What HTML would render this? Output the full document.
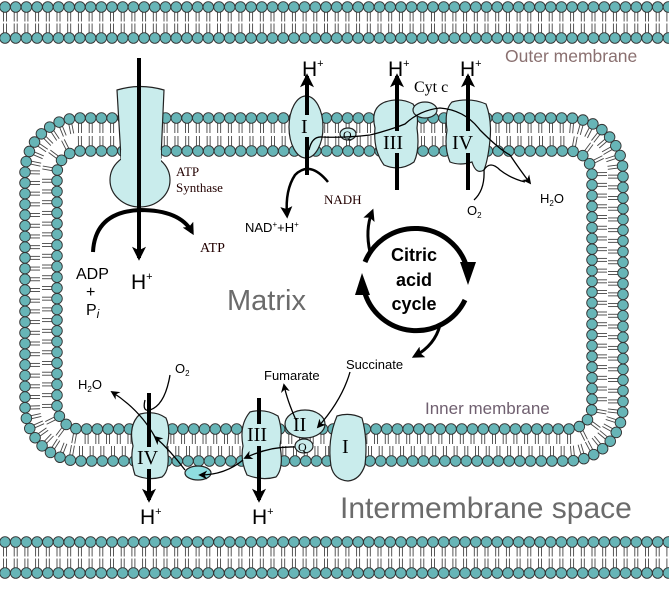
<!DOCTYPE html>
<html><head><meta charset="utf-8"><style>
html,body{margin:0;padding:0;background:#fff;}
svg{display:block;}
text{font-family:"Liberation Sans",sans-serif;}
.serif{font-family:"Liberation Serif",serif;}
</style></head><body>
<svg id="s" width="669" height="601" viewBox="0 0 669 601" xmlns="http://www.w3.org/2000/svg">
<defs>
<marker id="ah" viewBox="0 0 10 10" refX="8" refY="5" markerUnits="userSpaceOnUse" markerWidth="9" markerHeight="9" orient="auto"><path d="M0,0 L10,5 L0,10 L3,5 z" fill="#000"/></marker>
<marker id="ahs" viewBox="0 0 10 10" refX="8" refY="5" markerUnits="userSpaceOnUse" markerWidth="18" markerHeight="14" orient="auto"><path d="M0,0 L10,5 L0,10 L2.5,5 z" fill="#000"/></marker>
<marker id="ahb" viewBox="0 0 10 10" refX="7" refY="5" markerUnits="userSpaceOnUse" markerWidth="12" markerHeight="12" orient="auto"><path d="M0,0 L10,5 L0,10 L2,5 z" fill="#000"/></marker>
</defs>
<g id="mem"></g>
<g id="fg" stroke="#222" stroke-width="1.2">
<path d="M117,90 Q140,83 164,90 L161,158 L121,158 Z" fill="#c9ecec"/>
<ellipse cx="140" cy="180" rx="30" ry="27" fill="#c9ecec"/>
<rect x="121" y="150" width="40" height="12" fill="#c9ecec" stroke="none"/>
<ellipse cx="306" cy="127" rx="17" ry="31" fill="#c9ecec"/>
<path d="M385,102 Q400,97 413,104 Q419,112 417,128 Q420,150 414,162 Q400,172 384,165 Q373,150 375,128 Q370,108 385,102 Z" fill="#c9ecec"/>
<ellipse cx="425" cy="110" rx="12" ry="8" fill="#c9ecec"/>
<path d="M452,102 Q470,97 486,104 Q492,120 490,140 Q488,160 484,170 Q476,175 472,162 Q460,166 450,162 Q444,148 447,130 Q444,110 452,102 Z" fill="#c9ecec"/>
<ellipse cx="348" cy="134" rx="8" ry="6" fill="#c9ecec"/>
<path d="M140,414 Q155,410 166,418 Q171,430 167,446 Q171,470 162,477 Q148,481 135,475 Q130,460 133,446 Q128,425 140,414 Z" fill="#c9ecec"/>
<path d="M250,412 Q265,408 278,416 Q283,430 280,446 Q284,468 276,477 Q262,481 247,475 Q240,460 243,446 Q239,425 250,412 Z" fill="#c9ecec"/>
<ellipse cx="305" cy="424" rx="20" ry="14" fill="#c9ecec"/>
<ellipse cx="304" cy="446" rx="9" ry="7" fill="#c9ecec"/>
<path d="M337,416 Q350,412 362,418 Q368,440 365,465 Q360,480 348,481 Q334,480 331,466 Q327,440 337,416 Z" fill="#c9ecec"/>
<ellipse cx="198" cy="473" rx="13" ry="7" fill="#8fdde0"/>
</g>
<g fill="none" stroke="#000">
<line x1="139" y1="58" x2="139" y2="258" stroke-width="4" marker-end="url(#ahs)"/>
<line x1="307" y1="175" x2="307" y2="76" stroke-width="4" marker-end="url(#ahs)"/>
<line x1="397" y1="190" x2="397" y2="76" stroke-width="4" marker-end="url(#ahs)"/>
<line x1="468" y1="190" x2="468" y2="76" stroke-width="4" marker-end="url(#ahs)"/>
<line x1="149" y1="393" x2="149" y2="500" stroke-width="4" marker-end="url(#ahs)"/>
<line x1="259" y1="398" x2="259" y2="500" stroke-width="4" marker-end="url(#ahs)"/>
<path d="M93,252 Q95,212 140,210 Q180,210 192,232" stroke-width="4" marker-end="url(#ahb)"/>
<path d="M328,182 Q310,160 295,175 Q285,190 287,215" stroke-width="2.5" marker-end="url(#ahb)"/>
</g>
<!-- label backgrounds breaking arrows -->
<g fill="#c9ecec">
<rect x="300" y="115" width="14" height="22"/>
<rect x="382" y="131" width="30" height="22"/>
<rect x="451" y="131" width="26" height="22"/>
<rect x="136" y="447" width="26" height="22"/>
<rect x="246" y="424" width="30" height="22"/>
</g>
<g fill="none" stroke="#000">
<path d="M309,150 Q312,136 322,137 Q345,138 370,135 Q390,130 405,124 Q420,110 440,108 Q465,110 480,130 Q500,150 510,155" stroke-width="1.3"/>
<path d="M510,155 Q520,170 530,183" stroke-width="1.3" marker-end="url(#ah)"/>
<path d="M474,200 Q485,190 484,170 Q490,160 500,170 Q510,178 525,182" stroke-width="1.3"/>
<path d="M295,447 Q270,446 245,458" stroke-width="1.3" marker-end="url(#ah)"/>
<path d="M243,460 Q225,475 200,475" stroke-width="1.3" marker-end="url(#ah)"/>
<path d="M185,470 Q170,450 155,437" stroke-width="1.3" marker-end="url(#ah)"/>
<path d="M155,437 Q140,410 112,392" stroke-width="1.3" marker-end="url(#ah)"/>
<path d="M170,375 Q165,405 150,410 Q142,412 145,400" stroke-width="1.3"/>
<path d="M350,372 Q342,400 318,427" stroke-width="1.3" marker-end="url(#ah)"/>
<path d="M296,420 Q287,400 284,385" stroke-width="1.3" marker-end="url(#ah)"/>
<path d="M365,262 A54,54 0 0 1 467,268" stroke-width="5"/>
<path d="M465,300 A54,54 0 0 1 364,290" stroke-width="5"/>
<path d="M370,252 Q365,230 372,212" stroke-width="3" marker-end="url(#ahb)"/>
<path d="M440,325 Q435,345 415,356" stroke-width="3" marker-end="url(#ahb)"/>
</g>
<polygon points="460,262 476,262 468,285" fill="#000"/>
<polygon points="355,295 370,295 362,273" fill="#000"/>
<g fill="#000">
<text x="302" y="76" font-size="21">H<tspan font-size="11" dy="-9">+</tspan></text>
<text x="388" y="76" font-size="21">H<tspan font-size="11" dy="-9">+</tspan></text>
<text x="460" y="76" font-size="21">H<tspan font-size="11" dy="-9">+</tspan></text>
<text x="131" y="289" font-size="21">H<tspan font-size="11" dy="-9">+</tspan></text>
<text x="140" y="524" font-size="21">H<tspan font-size="11" dy="-9">+</tspan></text>
<text x="252" y="524" font-size="21">H<tspan font-size="11" dy="-9">+</tspan></text>
<text class="serif" x="301" y="133" font-size="20">I</text>
<text class="serif" x="383" y="149" font-size="20">III</text>
<text class="serif" x="452" y="149" font-size="20">IV</text>
<text class="serif" x="343" y="139" font-size="12">Q</text>
<text class="serif" x="414" y="92" font-size="16">Cyt c</text>
<text class="serif" x="137" y="464" font-size="20">IV</text>
<text class="serif" x="247" y="441" font-size="20">III</text>
<text class="serif" x="293" y="431" font-size="20">II</text>
<text class="serif" x="342" y="453" font-size="20">I</text>
<text class="serif" x="298" y="451" font-size="12">Q</text>
<text class="serif" x="176" y="176" font-size="13" fill="#200">ATP</text>
<text class="serif" x="176" y="192" font-size="13" fill="#200">Synthase</text>
<text class="serif" x="200" y="252" font-size="14" fill="#200">ATP</text>
<text class="serif" x="324" y="204" font-size="13" fill="#200">NADH</text>
<text x="245" y="232" font-size="13">NAD<tspan font-size="8" dy="-5">+</tspan><tspan dy="5">+H</tspan><tspan font-size="8" dy="-5">+</tspan></text>
<text x="76" y="279" font-size="16">ADP</text>
<text x="86" y="297" font-size="16">+</text>
<text x="86" y="315" font-size="16">P<tspan font-size="12" font-style="italic" dy="3">i</tspan></text>
<text x="467" y="215" font-size="13">O<tspan font-size="8" dy="3">2</tspan></text>
<text x="540" y="203" font-size="13">H<tspan font-size="8" dy="3">2</tspan><tspan dy="-3">O</tspan></text>
<text x="78" y="389" font-size="13">H<tspan font-size="8" dy="3">2</tspan><tspan dy="-3">O</tspan></text>
<text x="175" y="373" font-size="13">O<tspan font-size="8" dy="3">2</tspan></text>
<text x="264" y="380" font-size="13">Fumarate</text>
<text x="346" y="369" font-size="13">Succinate</text>
<text x="414" y="261" font-size="18" font-weight="bold" text-anchor="middle">Citric</text>
<text x="414" y="286" font-size="18" font-weight="bold" text-anchor="middle">acid</text>
<text x="414" y="310" font-size="18" font-weight="bold" text-anchor="middle">cycle</text>
<text x="227" y="310" font-size="29" fill="#6b6b6b">Matrix</text>
<text x="505" y="62" font-size="17.5" fill="#8a7070">Outer membrane</text>
<text x="425" y="414" font-size="17" fill="#706070">Inner membrane</text>
<text x="340" y="518" font-size="30" fill="#6b6b6b">Intermembrane space</text>
</g>
</svg>
<script>
(function(){
var NS="http://www.w3.org/2000/svg",g=document.getElementById('mem');
function el(t,a,p){var e=document.createElementNS(NS,t);for(var k in a)e.setAttribute(k,a[k]);(p||g).appendChild(e);return e;}
var HC="#67b5b7",R=5.3;
function straight(y1,y2){
 el('rect',{x:0,y:y1,width:669,height:y2-y1,fill:'#fff'});
 var heads=[];
 for(var x=5;x<672;x+=10.7){
  el('line',{x1:x-1.5,y1:y1,x2:x-1.5,y2:y2,stroke:'#444','stroke-width':0.9});
  el('line',{x1:x+1.5,y1:y1,x2:x+1.5,y2:y2,stroke:'#444','stroke-width':0.9});
  heads.push(x);
 }
 el('line',{x1:0,y1:(y1+y2)/2,x2:669,y2:(y1+y2)/2,stroke:'#fff','stroke-width':2});
 heads.forEach(function(x){el('circle',{cx:x,cy:y1,r:R,fill:HC,stroke:'#333','stroke-width':0.9});el('circle',{cx:x,cy:y2,r:R,fill:HC,stroke:'#333','stroke-width':0.9});});
}
straight(7,38);straight(542,573);
function rr(x1,y1,x2,y2,r){return 'M'+(x1+r)+','+y1+' L'+(x2-r)+','+y1+' A'+r+','+r+' 0 0 1 '+x2+','+(y1+r)+' L'+x2+','+(y2-r)+' A'+r+','+r+' 0 0 1 '+(x2-r)+','+y2+' L'+(x1+r)+','+y2+' A'+r+','+r+' 0 0 1 '+x1+','+(y2-r)+' L'+x1+','+(y1+r)+' A'+r+','+r+' 0 0 1 '+(x1+r)+','+y1+' Z';}
el('path',{d:rr(41,134.5,607.5,445,39),fill:'none',stroke:'#fff','stroke-width':32});
function ring(d,inward,tail){
 var p=el('path',{d:d,fill:'none',stroke:'none'});var L=p.getTotalLength();var n=Math.round(L/10.7),st=L/n;var pts=[];
 for(var i=0;i<n;i++){var l=i*st,a=p.getPointAtLength(l),b=p.getPointAtLength((l+1)%L),c=p.getPointAtLength((l-1+L)%L);
  var tx=b.x-c.x,ty=b.y-c.y,m=Math.hypot(tx,ty)||1;tx/=m;ty/=m;var nx=-ty,ny=tx;if(!inward){nx=-nx;ny=-ny;}
  for(var k=-1;k<=1;k+=2){var ox=a.x+tx*1.5*k,oy=a.y+ty*1.5*k;el('line',{x1:ox,y1:oy,x2:ox+nx*tail,y2:oy+ny*tail,stroke:'#444','stroke-width':0.9});}
  pts.push(a);}
 return pts;
}
var o=ring(rr(25,118,623,461,55),true,15),inn=ring(rr(57,151,592,429,23),false,15);
o.concat(inn).forEach(function(a){el('circle',{cx:a.x,cy:a.y,r:R,fill:HC,stroke:'#333','stroke-width':0.9});});
})();
</script>
</body></html>
